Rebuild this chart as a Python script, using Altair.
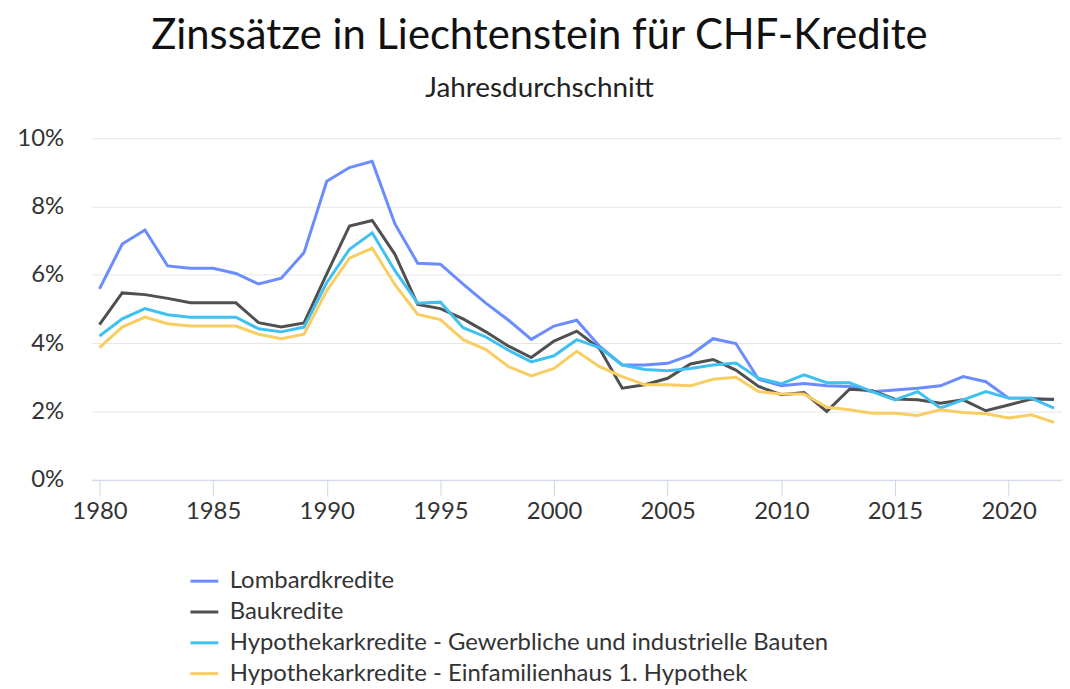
import altair as alt
import pandas as pd

years = list(range(1980, 2023))

lombard = [5.59, 6.90, 7.31, 6.26, 6.19, 6.19, 6.04, 5.73, 5.90, 6.65,
           8.74, 9.14, 9.32, 7.49, 6.34, 6.31, 5.73, 5.17, 4.67, 4.11,
           4.50, 4.67, 3.91, 3.36, 3.36, 3.41, 3.65, 4.13, 3.99, 2.94,
           2.75, 2.82, 2.75, 2.73, 2.58, 2.63, 2.68, 2.75, 3.02, 2.87,
           2.39, 2.39, 2.34]
bau = [4.54, 5.47, 5.42, 5.31, 5.18, 5.18, 5.18, 4.60, 4.47, 4.59,
       6.03, 7.43, 7.59, 6.60, 5.13, 5.01, 4.71, 4.33, 3.91, 3.58,
       4.06, 4.35, 3.84, 2.68, 2.78, 2.97, 3.39, 3.52, 3.21, 2.73,
       2.49, 2.55, 2.00, 2.65, 2.61, 2.36, 2.34, 2.24, 2.34, 2.02,
       2.19, 2.36, 2.36]
gewerbe = [4.21, 4.71, 5.01, 4.83, 4.76, 4.76, 4.76, 4.42, 4.33, 4.47,
           5.77, 6.75, 7.23, 6.12, 5.17, 5.20, 4.45, 4.18, 3.79, 3.45,
           3.63, 4.10, 3.87, 3.36, 3.23, 3.19, 3.26, 3.36, 3.42, 2.97,
           2.81, 3.07, 2.84, 2.84, 2.58, 2.34, 2.58, 2.10, 2.34, 2.58,
           2.39, 2.39, 2.10]
efh = [3.87, 4.47, 4.76, 4.57, 4.50, 4.50, 4.50, 4.26, 4.13, 4.26,
       5.54, 6.49, 6.78, 5.71, 4.84, 4.69, 4.10, 3.81, 3.31, 3.04,
       3.26, 3.76, 3.31, 3.02, 2.78, 2.78, 2.75, 2.94, 3.00, 2.58,
       2.51, 2.51, 2.12, 2.05, 1.95, 1.95, 1.88, 2.05, 1.97, 1.93,
       1.81, 1.90, 1.68]

series_names = [
    "Lombardkredite",
    "Baukredite",
    "Hypothekarkredite - Gewerbliche und industrielle Bauten",
    "Hypothekarkredite - Einfamilienhaus 1. Hypothek",
]
series_colors = ["#6A8CFF", "#505050", "#40C0F0", "#F8CD62"]
x_ticks = [1980, 1985, 1990, 1995, 2000, 2005, 2010, 2015, 2020]
y_ticks = [0, 2, 4, 6, 8, 10]

rows = []
for k, (name, vals) in enumerate(zip(series_names, [lombard, bau, gewerbe, efh])):
    for yr, v in zip(years, vals):
        rows.append({"Jahr": yr, "Zins": v, "Serie": name, "k": k})
df = pd.DataFrame(rows)

FONT = "Lato"

chart = alt.Chart(df).mark_line(strokeWidth=3).encode(
    x=alt.X(
        "Jahr:Q",
        scale=alt.Scale(domain=[1979.65, 2022.35], nice=False, zero=False),
        axis=alt.Axis(
            values=x_ticks, format="d", title=None, grid=False,
            domainColor="#ccd6eb", tickColor="#ccd6eb", tickSize=16,
            labelFontSize=24, labelColor="#333333", labelPadding=4,
            labelFont=FONT,
        ),
    ),
    y=alt.Y(
        "Zins:Q",
        scale=alt.Scale(domain=[0, 10], nice=False),
        axis=alt.Axis(
            values=y_ticks, labelExpr="datum.value + '%'", title=None,
            domain=False, ticks=False, gridColor="#e6e6e6",
            labelFontSize=24, labelColor="#333333", labelPadding=28,
            labelFont=FONT,
        ),
    ),
    color=alt.Color(
        "Serie:N",
        scale=alt.Scale(domain=series_names, range=series_colors),
        legend=alt.Legend(
            title=None, orient="none", legendX=98, legendY=430,
            direction="vertical", symbolType="stroke", symbolSize=784,
            symbolStrokeWidth=3, labelFontSize=24, labelColor="#333333",
            labelFont=FONT, labelOffset=10, rowPadding=3, padding=0,
            labelLimit=900,
        ),
    ),
    order=alt.Order("k:Q"),
).properties(
    width=976,
    height=343.5,
    autosize="none",
    padding={"left": 84, "top": 129, "right": 0, "bottom": 207},
    title=alt.TitleParams(
        text="Zinssätze in Liechtenstein für CHF-Kredite",
        subtitle="Jahresdurchschnitt",
        anchor="middle", frame="bounds",
        font=FONT, fontSize=42, fontWeight="normal", color="#111111",
        subtitleFont=FONT, subtitleFontSize=28, subtitleColor="#222222",
        subtitlePadding=18, offset=22,
    ),
).configure_view(stroke=None)

chart.save("out.html", embed_options={"renderer": "svg", "actions": False})
